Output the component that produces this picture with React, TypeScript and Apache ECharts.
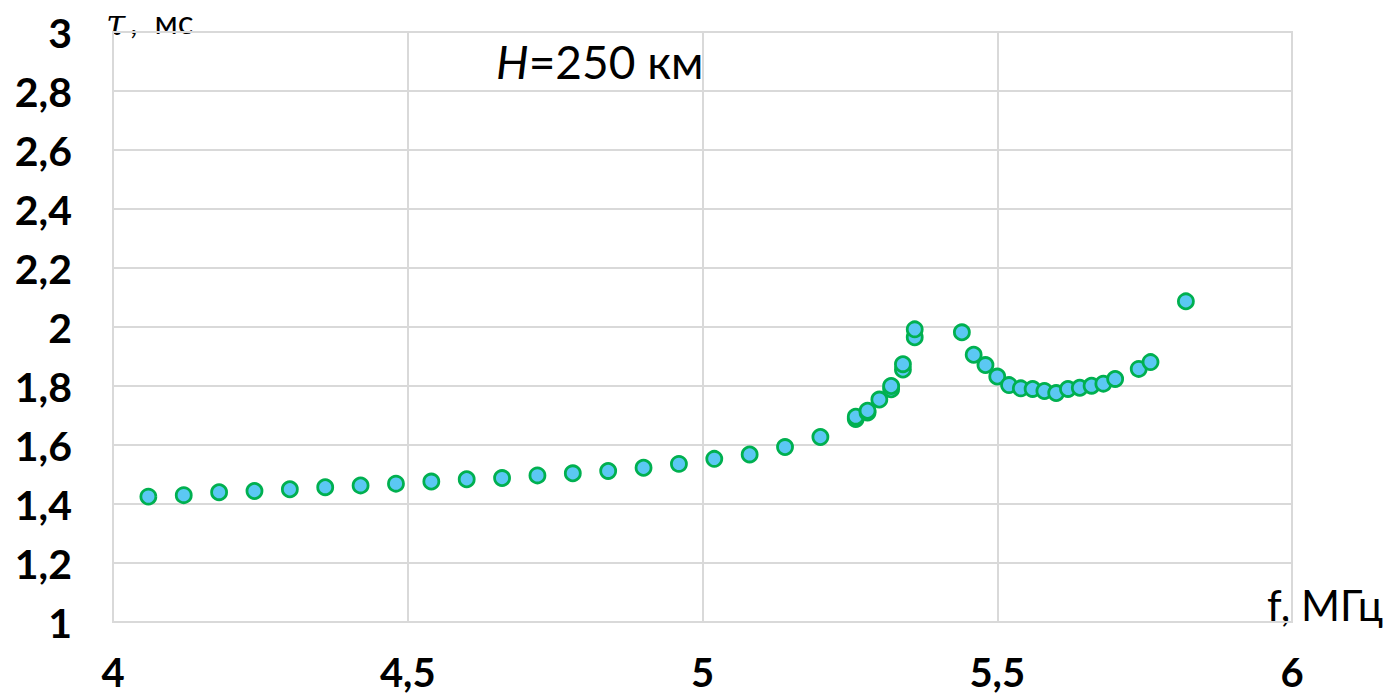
import React, { useEffect, useRef } from "react";
import * as echarts from "echarts";

const freqMHz: number[] = [
  4.06, 4.12, 4.18, 4.24, 4.3, 4.36, 4.42, 4.48, 4.54, 4.6, 4.66, 4.72, 4.78, 4.84, 4.9, 4.96, 5.02, 5.08, 5.14, 5.2,
  5.26, 5.26, 5.28, 5.28, 5.3, 5.32, 5.32, 5.34, 5.34, 5.36, 5.36,
  5.44, 5.46, 5.48, 5.5, 5.52, 5.54, 5.56, 5.58, 5.6, 5.62, 5.64, 5.66, 5.68, 5.7, 5.74, 5.76, 5.82,
];
const tauMs: number[] = [
  1.425, 1.43, 1.44, 1.444, 1.45, 1.457, 1.463, 1.469, 1.476, 1.484, 1.488, 1.497, 1.504, 1.512, 1.523, 1.536, 1.553, 1.568, 1.593, 1.627,
  1.688, 1.696, 1.71, 1.716, 1.754, 1.789, 1.8, 1.856, 1.874, 1.965, 1.992,
  1.982, 1.906, 1.871, 1.832, 1.803, 1.792, 1.79, 1.783, 1.776, 1.79, 1.794, 1.801, 1.808, 1.824, 1.858, 1.881, 2.087,
];

const FONT = "Lato";

function fmt(v: number): string {
  return String(Number(v.toFixed(2))).replace(".", ",");
}

export default function App() {
  const ref = useRef<HTMLDivElement>(null);
  useEffect(() => {
    if (!ref.current) return;
    const chart = echarts.init(ref.current, null, { renderer: "svg" });
    const data = freqMHz.map((f, i) => [f, tauMs[i]]);
    chart.setOption({
      animation: false,
      backgroundColor: "#ffffff",
      textStyle: { fontFamily: FONT },
      grid: { left: 113, top: 32, right: 100, bottom: 76, show: false },
      xAxis: {
        type: "value",
        min: 4,
        max: 6,
        interval: 0.5,
        name: "f, МГц",
        nameLocation: "end",
        nameGap: -25,
        nameTextStyle: {
          fontFamily: FONT,
          fontSize: 42,
          color: "#000",
          align: "left",
          verticalAlign: "bottom",
          padding: [0, 0, -4, 0],
        },
        axisLine: { show: true, lineStyle: { color: "#d9d9d9", width: 2 } },
        axisTick: { show: false },
        splitLine: { show: true, lineStyle: { color: "#d9d9d9", width: 2 } },
        axisLabel: {
          formatter: (v: number) => fmt(v),
          fontFamily: FONT,
          fontWeight: "bold",
          fontSize: 40,
          color: "#000",
          margin: 30,
          showMinLabel: true,
          showMaxLabel: true,
        },
      },
      yAxis: {
        type: "value",
        min: 1,
        max: 3,
        interval: 0.2,
        axisLine: { show: true, lineStyle: { color: "#d9d9d9", width: 2 } },
        axisTick: { show: false },
        splitLine: { show: true, lineStyle: { color: "#d9d9d9", width: 2 } },
        axisLabel: {
          formatter: (v: number) => fmt(v),
          fontFamily: FONT,
          fontWeight: "bold",
          fontSize: 41,
          color: "#000",
          margin: 41,
          showMinLabel: true,
          showMaxLabel: true,
        },
      },
      graphic: [
        {
          type: "rect",
          shape: { x: 113, y: 32, width: 1179, height: 590 },
          style: { fill: "none", stroke: "#d9d9d9", lineWidth: 2 },
          silent: true,
          z: -1,
        },
        {
          type: "text",
          x: 106,
          y: 5,
          style: {
            text: "τ",
            fill: "#000",
            fontFamily: "DejaVu Serif",
            fontStyle: "italic",
            fontSize: 35,
            align: "left",
            verticalAlign: "top",
          },
        },
        {
          type: "text",
          x: 130,
          y: 4,
          style: {
            text: ",  мс",
            fill: "#000",
            fontFamily: FONT,
            fontSize: 33,
            align: "left",
            verticalAlign: "top",
          },
        },
        {
          type: "text",
          x: 496,
          y: 38,
          style: {
            text: "{h|H}=250 км",
            fill: "#000",
            fontFamily: FONT,
            fontSize: 46,
            align: "left",
            verticalAlign: "top",
            rich: {
              h: { fontFamily: FONT, fontStyle: "italic", fontSize: 46, fill: "#000" },
            },
          },
        },
      ],
      series: [
        {
          type: "scatter",
          data,
          symbol: "circle",
          symbolSize: 15,
          itemStyle: { color: "#5bc8f3", borderColor: "#00b050", borderWidth: 2.8, opacity: 1 },
        },
      ],
    });
    return () => chart.dispose();
  }, []);
  return (
    <div
      ref={ref}
      style={{ position: "fixed", left: 0, top: 0, width: 1392, height: 698 }}
    />
  );
}
